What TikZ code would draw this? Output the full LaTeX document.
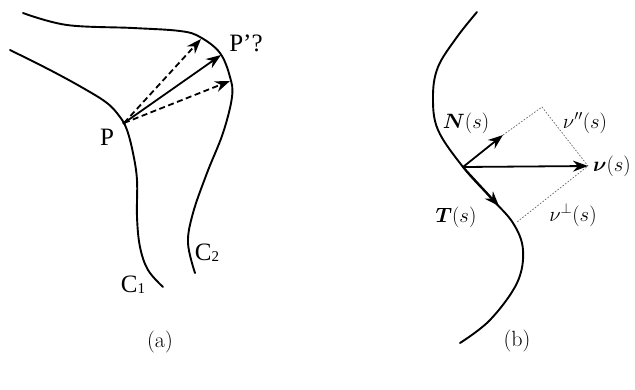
\documentclass[tikz,border=0pt]{standalone}
\usepackage{amsmath,bm}
\usepackage{fontspec}
\setmainfont{Liberation Serif}
\newfontfamily\cmfont{Latin Modern Roman}
\usetikzlibrary{arrows.meta}
\begin{document}
\begin{tikzpicture}[x=1pt,y=-1pt,
  curve/.style={line width=1.9pt, line cap=round},
  vec/.style={line width=1.8pt, -{Stealth[length=15pt,width=11pt]}},
  dvec/.style={vec, dash pattern=on 6pt off 3.5pt},
  helper/.style={line width=0.7pt, black!60, dash pattern=on 1.6pt off 1.6pt},
  lbl/.style={inner sep=0pt, font=\fontsize{25}{29}\selectfont},
  mlbl/.style={inner sep=0pt, font=\fontsize{21}{25}\selectfont},
  captxt/.style={inner sep=0pt, font=\cmfont\fontsize{22}{26}\selectfont}]
\useasboundingbox (0,0) rectangle (635,389);
% ---------- (a) ----------
\draw[curve] plot[smooth, tension=0.6] coordinates {(23,13) (67,25) (133,28) (180,31) (200,37) (220,53) (230,77) (232,97) (223,133) (207,173) (193,213) (188,243) (195,273)};
\draw[curve] plot[smooth, tension=0.6] coordinates {(10,50) (50,70) (83,88) (107,103) (120,117) (127,130) (133,153) (137,180) (137,217) (140,247) (148,270) (163,287)};
\coordinate (P) at (124,123);
\coordinate (E1) at (201,39);
\coordinate (E2) at (221,55);
\coordinate (E3) at (230,81);
\draw[dvec] (P) -- (E1);
\draw[vec] (P) -- (E2);
\draw[dvec] (P) -- (E3);
\fill (P) circle (1.8pt);
\node[lbl] (lP) at (107,137) {P};
\node[lbl] (lPq) at (246,43) {P’?};
\node[lbl] (lC1) at (133,285) {C\raisebox{-1pt}{\fontsize{15}{15}\selectfont 1}};
\node[lbl] (lC2) at (207,253) {C\raisebox{-1pt}{\fontsize{15}{15}\selectfont 2}};
\node[captxt] (capa) at (160,342) {(a)};
% ---------- (b) ----------
\draw[curve] plot[smooth, tension=0.6] coordinates {(477,12) (457,37) (438,67) (433,97) (438,130) (463,167) (490,197) (513,223) (523,250) (517,283) (490,320) (460,343)};
\coordinate (B) at (463,167);
\coordinate (Nend) at (503,135);
\coordinate (Vend) at (588,166);
\coordinate (Tend) at (499,206);
\coordinate (Ctop) at (542,107);
\coordinate (Cbot) at (517,222);
\draw[helper] (Nend) -- (Ctop) -- (Vend) -- (Cbot);
\draw[vec] (B) -- (Nend);
\draw[vec] (B) -- (Vend);
\draw[vec] (B) -- (Tend);
\node[mlbl] (lN) at (466,123) {$\bm{N}(s)$};
\node[mlbl] (lVpar) at (585,123) {$\nu''(s)$};
\node[mlbl] (lV) at (612,166) {$\bm{\nu}(s)$};
\node[mlbl] (lT) at (456,217) {$\bm{T}(s)$};
\node[mlbl] (lVperp) at (573,215) {$\nu^{\perp}(s)$};
\node[captxt] (capb) at (517,341) {(b)};
\end{tikzpicture}
\end{document}
